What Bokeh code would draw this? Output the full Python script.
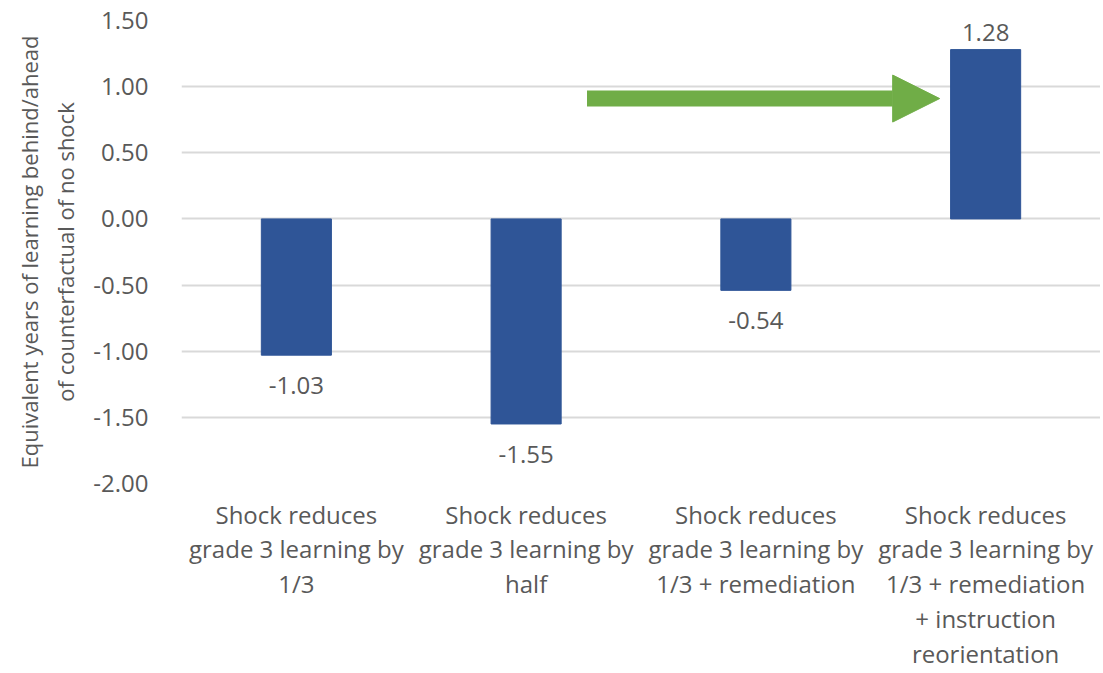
from bokeh.plotting import figure
from bokeh.models import ColumnDataSource, Arrow, NormalHead, FixedTicker, Range1d
from bokeh.core.properties import value
from bokeh.embed import file_html
from bokeh.resources import INLINE

categories = [
    "Shock reduces\ngrade 3 learning by\n1/3",
    "Shock reduces\ngrade 3 learning by\nhalf",
    "Shock reduces\ngrade 3 learning by\n1/3 + remediation",
    "Shock reduces\ngrade 3 learning by\n1/3 + remediation\n+ instruction\nreorientation",
]
values = [-1.03, -1.55, -0.54, 1.28]
value_labels = ["-1.03", "-1.55", "-0.54", "1.28"]
y_ticks = [-2.0, -1.5, -1.0, -0.5, 0.0, 0.5, 1.0, 1.5]
y_tick_labels = ["-2.00", "-1.50", "-1.00", "-0.50", "0.00", "0.50", "1.00", "1.50"]
arrow_start = (1.265, 0.91)
arrow_end = (2.80, 0.91)

FONT = "Open Sans"
TXT = "#595959"
BAR = "#2F5597"
GREEN = "#70AD47"
GRID = "#D9D9D9"

xs = list(range(len(categories)))
src = ColumnDataSource(dict(x=xs, top=values, lab=value_labels))

p = figure(width=1100, height=673, output_backend="svg", toolbar_location=None,
           x_range=Range1d(-0.5, len(categories) - 0.5), y_range=Range1d(-2.0, 1.5),
           min_border_left=181, min_border_right=0, min_border_top=20,
           min_border_bottom=185)
p.outline_line_color = None
p.background_fill_color = "white"

p.vbar(x="x", top="top", bottom=0, width=0.305, color=BAR, source=src)

# value labels
pos = [i for i, v in enumerate(values) if v >= 0]
neg = [i for i, v in enumerate(values) if v < 0]
p.text(x=[xs[i] for i in pos], y=[values[i] for i in pos], text=[value_labels[i] for i in pos],
       text_font=value(FONT), text_font_size="24px", text_color=TXT,
       text_align="center", text_baseline="bottom", y_offset=-9)
p.text(x=[xs[i] for i in neg], y=[values[i] for i in neg], text=[value_labels[i] for i in neg],
       text_font=value(FONT), text_font_size="24px", text_color=TXT,
       text_align="center", text_baseline="top", y_offset=22)

# arrow
p.add_layout(Arrow(x_start=arrow_start[0], y_start=arrow_start[1],
                   x_end=arrow_end[0], y_end=arrow_end[1],
                   line_color=GREEN, line_width=16,
                   end=NormalHead(size=47, fill_color=GREEN, line_color=GREEN, line_width=1)))

# x axis
p.xaxis.ticker = FixedTicker(ticks=xs)
p.xaxis.major_label_overrides = {i: c for i, c in zip(xs, categories)}
p.xaxis.axis_line_color = None
p.xaxis.major_tick_line_color = None
p.xaxis.minor_tick_line_color = None
p.xaxis.major_label_text_font = FONT
p.xaxis.major_label_text_font_size = "24px"
p.xaxis.major_label_text_color = TXT
p.xaxis.major_label_standoff = 8
p.xaxis.major_label_text_line_height = 1.06
p.xgrid.grid_line_color = None

# y axis
p.yaxis.ticker = FixedTicker(ticks=y_ticks)
p.yaxis.major_label_overrides = {t: l for t, l in zip(y_ticks, y_tick_labels)}
p.yaxis.axis_line_color = None
p.yaxis.major_tick_line_color = None
p.yaxis.minor_tick_line_color = None
p.yaxis.major_label_text_font = FONT
p.yaxis.major_label_text_font_size = "24px"
p.yaxis.major_label_text_color = TXT
p.yaxis.major_label_standoff = 27
p.yaxis.axis_label = "Equivalent years of learning behind/ahead\nof counterfactual of no shock"
p.yaxis.axis_label_text_font = FONT
p.yaxis.axis_label_text_font_size = "22px"
p.yaxis.axis_label_text_font_style = "normal"
p.yaxis.axis_label_text_color = TXT
p.yaxis.axis_label_text_line_height = 1.2
p.yaxis.axis_label_standoff = 10
p.ygrid.grid_line_color = GRID
p.ygrid.grid_line_width = 2

open("out.html", "w").write(file_html(p, INLINE))
